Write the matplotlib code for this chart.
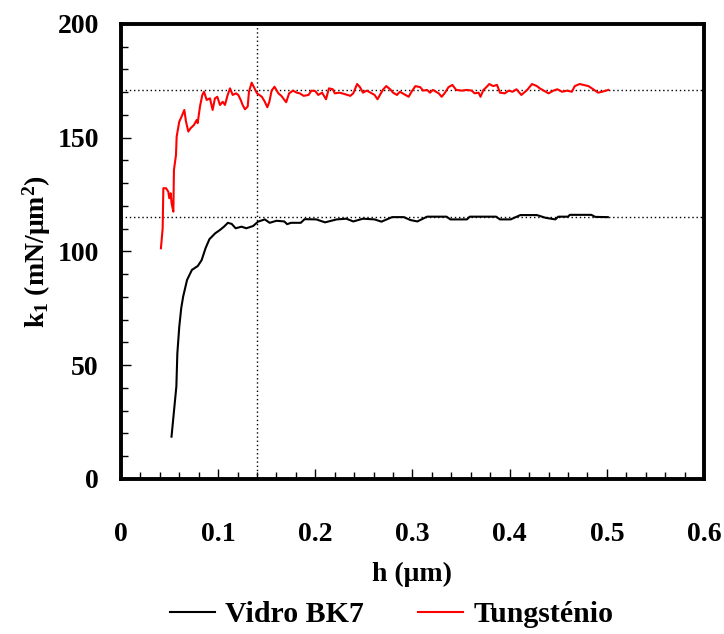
import matplotlib
matplotlib.use("Agg")
import matplotlib.pyplot as plt
from matplotlib.ticker import MultipleLocator

plt.rcParams["font.family"] = ["Liberation Serif", "DejaVu Serif"]
plt.rcParams["font.weight"] = "bold"
plt.rcParams["mathtext.fontset"] = "custom"
plt.rcParams["mathtext.rm"] = "Liberation Serif:bold"
plt.rcParams["mathtext.bf"] = "Liberation Serif:bold"
plt.rcParams["mathtext.it"] = "Liberation Serif:bold"

# Vidro BK7
h_bk7 = [0.052, 0.057, 0.058, 0.060, 0.062, 0.064, 0.068, 0.073, 0.079, 0.083, 0.087, 0.091,
         0.097, 0.102, 0.106, 0.110, 0.114, 0.118, 0.124, 0.129, 0.136, 0.141, 0.148, 0.153,
         0.160, 0.168, 0.171, 0.175, 0.185, 0.189, 0.201, 0.210, 0.222, 0.232, 0.239, 0.249,
         0.261, 0.268, 0.279, 0.291, 0.298, 0.305, 0.315, 0.335, 0.339, 0.356, 0.359, 0.386,
         0.390, 0.401, 0.411, 0.428, 0.437, 0.447, 0.450, 0.460, 0.462, 0.484, 0.488, 0.501]
k_bk7 = [18.6, 40.7, 55.2, 67.0, 75.1, 80.2, 87.5, 91.9, 93.6, 96.2, 101.4, 105.4,
         108.0, 109.5, 110.9, 112.6, 112.1, 110.2, 110.9, 110.2, 111.2, 113.1, 114.1, 112.6,
         113.5, 113.2, 112.0, 112.6, 112.6, 114.2, 114.1, 112.8, 114.1, 114.4, 113.2, 114.4,
         114.1, 113.1, 115.1, 115.1, 113.8, 113.2, 115.3, 115.3, 114.1, 114.1, 115.3, 115.3,
         114.1, 114.1, 116.0, 116.0, 114.8, 114.1, 115.3, 115.3, 116.1, 116.1, 115.2, 115.1]

# Tungsténio
h_w = [0.0411, 0.0429, 0.0436, 0.0463, 0.0487, 0.0497, 0.0511, 0.0521, 0.0539, 0.0545,
       0.0566, 0.0573, 0.0600, 0.0624, 0.0652, 0.0669, 0.0693, 0.0717, 0.0751, 0.0779,
       0.0789, 0.0813, 0.0837, 0.0854, 0.0882, 0.0916, 0.0943, 0.0967, 0.0991, 0.1019,
       0.1047, 0.1070, 0.1098, 0.1122, 0.1150, 0.1184, 0.1207, 0.1232, 0.1252, 0.1276,
       0.1304, 0.1317, 0.1345, 0.1380, 0.1400, 0.1450, 0.1480, 0.1506, 0.1527, 0.1550,
       0.1580, 0.1620, 0.1650, 0.1670, 0.1700, 0.1730, 0.1770, 0.1810, 0.1840, 0.1880,
       0.1930, 0.1960, 0.2000, 0.2030, 0.2070, 0.2110, 0.2140, 0.2180, 0.2200, 0.2250,
       0.2300, 0.2360, 0.2390, 0.2430, 0.2460, 0.2490, 0.2530, 0.2580, 0.2610, 0.2640,
       0.2670, 0.2700, 0.2730, 0.2770, 0.2800, 0.2840, 0.2870, 0.2910, 0.2960, 0.2990,
       0.3030, 0.3080, 0.3110, 0.3150, 0.3180, 0.3210, 0.3270, 0.3300, 0.3330, 0.3370,
       0.3410, 0.3450, 0.3510, 0.3560, 0.3610, 0.3640, 0.3680, 0.3700, 0.3730, 0.3760,
       0.3790, 0.3830, 0.3870, 0.3900, 0.3950, 0.3990, 0.4030, 0.4070, 0.4120, 0.4180,
       0.4230, 0.4280, 0.4310, 0.4350, 0.4400, 0.4450, 0.4490, 0.4540, 0.4590, 0.4640,
       0.4670, 0.4720, 0.4760, 0.4810, 0.4860, 0.4910, 0.4950, 0.5015]
k_w = [101.4, 110.2, 127.8, 127.8, 126.3, 123.4, 125.6, 121.2, 117.5, 135.8,
       142.4, 150.5, 157.1, 159.3, 162.2, 157.1, 152.7, 154.2, 155.6, 157.8,
       156.4, 163.7, 168.8, 170.2, 166.6, 167.3, 162.2, 167.3, 168.0, 164.4,
       165.8, 164.4, 168.8, 171.7, 168.8, 169.5, 168.8, 166.6, 164.4, 162.5,
       163.7, 170.2, 174.2, 171.2, 169.5, 168.0, 165.8, 163.4, 165.8, 170.7,
       172.4, 169.5, 168.4, 167.3, 165.6, 169.5, 170.7, 169.8, 169.5, 168.4,
       168.8, 170.7, 170.5, 168.8, 169.8, 166.9, 171.7, 171.3, 169.5, 169.8,
       169.2, 168.4, 169.5, 173.6, 172.2, 169.8, 170.7, 169.5, 168.8, 166.9,
       169.2, 171.3, 172.7, 171.3, 169.8, 168.8, 170.2, 169.2, 168.0, 170.2,
       172.7, 172.2, 170.7, 171.0, 169.8, 171.0, 169.5, 168.0, 169.5, 172.2,
       173.2, 171.0, 170.7, 171.0, 170.7, 169.5, 169.8, 168.0, 171.0, 172.2,
       173.6, 172.7, 173.2, 169.8, 169.5, 170.7, 170.2, 171.3, 168.8, 171.0,
       173.6, 172.7, 171.7, 170.7, 169.5, 170.7, 171.3, 170.2, 170.7, 170.2,
       172.7, 173.6, 173.2, 172.7, 171.3, 169.8, 170.2, 171.0]

k_ref = [171, 115]
h_ref = 0.14

fig = plt.figure(figsize=(7.24, 6.34), dpi=100)
ax = fig.add_axes([0.1671, 0.2445, 0.8053, 0.7177])

for k in k_ref:
    ax.axhline(k, color="black", ls=(0, (1, 2)), lw=1.0, zorder=1)
ax.axvline(h_ref, color="black", ls=(0, (1, 2)), lw=1.0, zorder=1)

ax.plot(h_bk7, k_bk7, color="black", lw=1.5, label="Vidro BK7", zorder=3)
ax.plot(h_w, k_w, color="#ff0000", lw=1.5, label="Tungsténio", zorder=3)

ax.set_xlim(0, 0.6)
ax.set_ylim(0, 200)
ax.xaxis.set_major_locator(MultipleLocator(0.1))
ax.xaxis.set_minor_locator(MultipleLocator(0.02))
ax.yaxis.set_major_locator(MultipleLocator(50))
ax.yaxis.set_minor_locator(MultipleLocator(10))
ax.set_xticks([0, 0.1, 0.2, 0.3, 0.4, 0.5, 0.6], ["0", "0.1", "0.2", "0.3", "0.4", "0.5", "0.6"])
ax.tick_params(which="both", direction="in", top=False, right=False, width=1.0, labelsize=20)
ax.tick_params(which="major", length=7.5)
ax.tick_params(which="minor", length=5)
ax.tick_params(axis="x", pad=31)
ax.tick_params(axis="y", pad=16)
for s in ax.spines.values():
    s.set_linewidth(2.8)

ax.set_xlabel("h (μm)", fontsize=20, fontweight="bold", labelpad=11)
ax.set_ylabel("k$_1$ (mN/μm$^2$)", fontsize=20, fontweight="bold", labelpad=3)

fig.legend(loc="center", bbox_to_anchor=(0.541, 0.030), ncol=2, frameon=False, fontsize=21.5,
           handlelength=1.5, handletextpad=0.35, columnspacing=1.8)

fig.savefig("out.png", dpi=100)
